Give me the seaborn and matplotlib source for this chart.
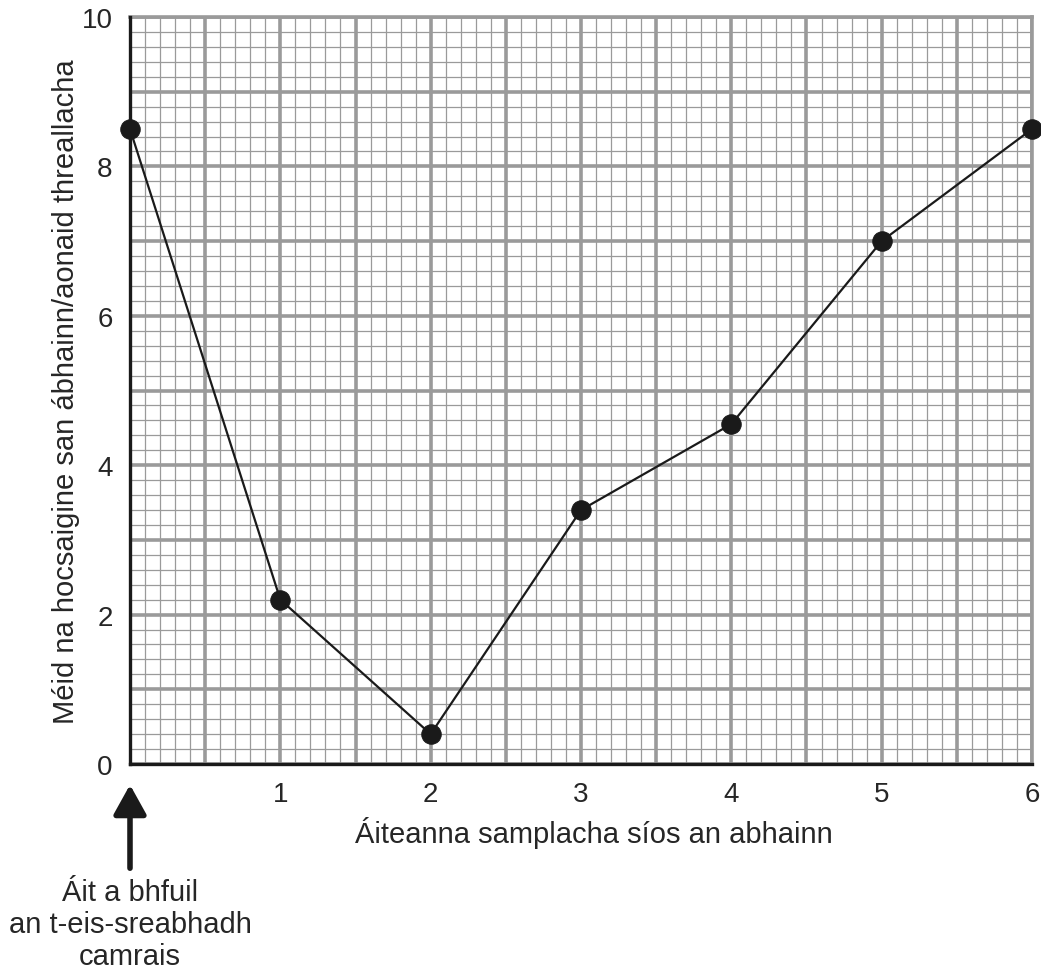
import matplotlib
matplotlib.use("Agg")
import matplotlib.pyplot as plt
import seaborn as sns
import pandas as pd
from matplotlib.ticker import MultipleLocator, FuncFormatter

sites = [0, 1, 2, 3, 4, 5, 6]
oxygen = [8.5, 2.2, 0.4, 3.4, 4.55, 7.0, 8.5]
xlabel = "Áiteanna samplacha síos an abhainn"
ylabel = "Méid na hocsaigine san ábhainn/aonaid threallacha"
note = "Áit a bhfuil\nan t-eis-sreabhadh\ncamrais"

sns.set_style("white")
plt.rcParams['font.family'] = ['Liberation Sans', 'DejaVu Sans']

df = pd.DataFrame({"site": sites, "oxygen": oxygen})

fig = plt.figure(figsize=(10.41, 9.70), dpi=100)
ax = fig.add_axes([130/1041, 1-765/970, (1032-130)/1041, (765-18)/970])

grid_col = "#9a9a9a"
ax.set_xlim(0, 6)
ax.set_ylim(0, 10)
ax.xaxis.set_major_locator(MultipleLocator(0.5))
ax.xaxis.set_minor_locator(MultipleLocator(0.1))
ax.yaxis.set_major_locator(MultipleLocator(1))
ax.yaxis.set_minor_locator(MultipleLocator(0.2))
ax.grid(which="minor", color=grid_col, linewidth=0.9)
ax.grid(which="major", color=grid_col, linewidth=2.6)
ax.set_axisbelow(True)

ax.xaxis.set_major_formatter(FuncFormatter(lambda v, p: f"{int(round(v))}" if abs(v - round(v)) < 1e-6 and round(v) > 0 else ""))
ax.yaxis.set_major_formatter(FuncFormatter(lambda v, p: f"{int(round(v))}" if int(round(v)) % 2 == 0 else ""))

ax.tick_params(which="major", length=7.5, width=2.6, color=grid_col, labelsize=20, pad=5)
ax.tick_params(which="minor", length=0)
fig.canvas.draw()
for t in ax.xaxis.get_major_ticks():
    v = t.get_loc()
    if abs(v - round(v)) > 1e-6:
        t.tick1line.set_visible(False)
    elif round(v) == 0:
        t.tick1line.set_color("#1a1a1a")
for t in ax.yaxis.get_major_ticks():
    v = t.get_loc()
    if int(round(v)) % 2 == 1:
        t.tick1line.set_visible(False)
    elif round(v) == 0:
        t.tick1line.set_color("#1a1a1a")

sns.lineplot(data=df, x="site", y="oxygen", ax=ax, color="#1a1a1a", linewidth=1.6,
             marker="o", markersize=14, markeredgecolor="#1a1a1a", clip_on=False, zorder=5)

for s in ["left", "bottom"]:
    ax.spines[s].set_color("#1a1a1a")
    ax.spines[s].set_linewidth(2.4)
    ax.spines[s].set_zorder(4)
for s in ["top", "right"]:
    ax.spines[s].set_color(grid_col)
    ax.spines[s].set_linewidth(2.6)

ax.set_xlabel(xlabel, fontsize=21)
ax.xaxis.set_label_coords(0.5 + 13/902, (765 - 843) / 747)
ax.xaxis.label.set_va("baseline")
ax.set_ylabel(ylabel, fontsize=21, labelpad=1)

ax.annotate("", xy=(130/1041, 1-783/970), xytext=(130/1041, 1-872/970),
            xycoords="figure fraction", textcoords="figure fraction",
            arrowprops=dict(arrowstyle="-|>,head_length=1.8,head_width=1.0", color="#1a1a1a", lw=4))
fig.text(130/1041, 1-925/970, note, ha="center", va="center", fontsize=21, linespacing=1.2)

fig.savefig("out.png", dpi=100)
